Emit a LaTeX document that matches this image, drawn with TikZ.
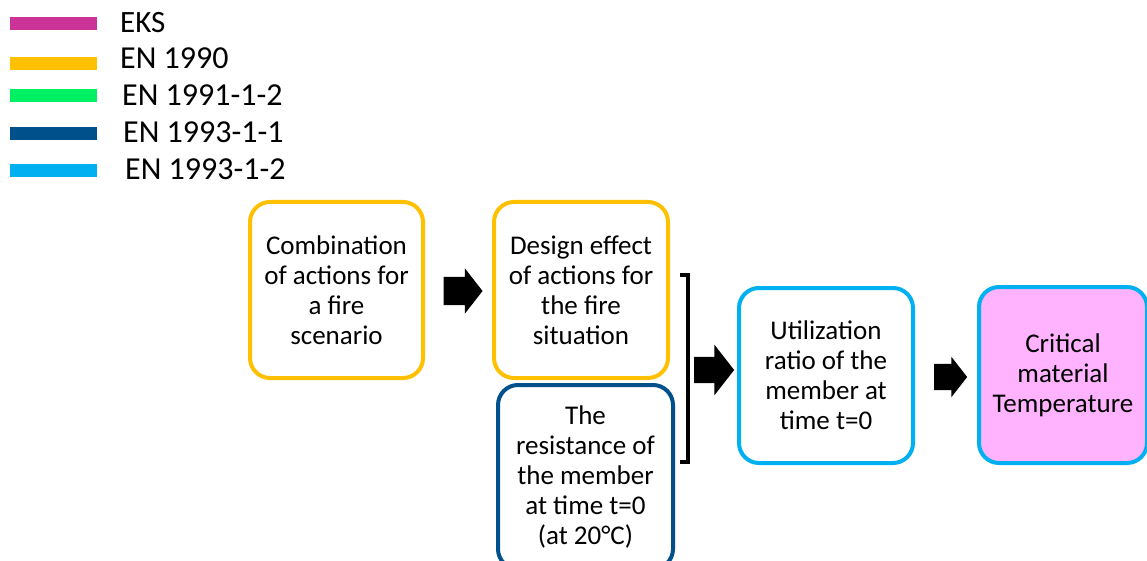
\documentclass[tikz,border=0pt]{standalone}
\usepackage{fontspec}
\setmainfont{Carlito}
\usetikzlibrary{shapes.arrows}
\definecolor{eks}{HTML}{CC3399}
\definecolor{en1990}{HTML}{FFC000}
\definecolor{en1991}{HTML}{00F064}
\definecolor{en19931}{HTML}{00508C}
\definecolor{en19932}{HTML}{00B0F0}
\definecolor{critfill}{HTML}{FFB3FF}
\begin{document}
\begin{tikzpicture}[x=1pt,y=-1pt,
  legbar/.style={rectangle,inner sep=0,minimum width=87pt,minimum height=13pt,fill=#1},
  legtext/.style={anchor=base west,inner sep=0,font=\fontsize{32}{36}\selectfont},
  stepbox/.style={rectangle,rounded corners=20pt,line width=4pt,draw=#1,
    align=center,inner sep=0,font=\fontsize{27}{30}\selectfont},
  blockarrow/.style={single arrow,fill=black,inner xsep=0,inner ysep=#1,
    single arrow tip angle=104,shape border rotate=0}
]
\useasboundingbox (0,0) rectangle (1147,561);

% legend
\node[legbar=eks]     (b1) at (53.5,24)  {};
\node[legbar=en1990]  (b2) at (53.5,64)  {};
\node[legbar=en1991]  (b3) at (53.5,96)  {};
\node[legbar=en19931] (b4) at (53.5,134) {};
\node[legbar=en19932] (b5) at (53.5,171) {};
\node[legtext,font=\fontsize{31}{36}\selectfont] (t1) at (120,33) {EKS};
\node[legtext] (t2) at (120,69)  {EN 1990};
\node[legtext] (t3) at (122,106) {EN 1991-1-2};
\node[legtext] (t4) at (123,143) {EN 1993-1-1};
\node[legtext] (t5) at (125,180) {EN 1993-1-2};

% flow boxes
\node[stepbox=en1990,minimum width=173pt,minimum height=176pt] (comb) at (336.5,290)
  {Combination\\of actions for\\a fire\\scenario};
\node[stepbox=en1990,minimum width=174pt,minimum height=176pt] (design) at (581,290)
  {Design effect\\of actions for\\the fire\\situation};
\node[stepbox=en19931,minimum width=175pt,minimum height=184pt] (resist) at (585.5,477)
  {The\\resistance of\\the member\\at time t=0\\(at 20°C)};
\node[stepbox=en19932,minimum width=174pt,minimum height=175pt] (util) at (826,375.5)
  {Utilization\\ratio of the\\member at\\time t=0};
\node[stepbox=en19932,fill=critfill,minimum width=168pt,minimum height=176pt] (crit) at (1063,375)
  {Critical\\material\\Temperature};

% bracket joining the two inputs
\coordinate (brtop) at (688,275);
\coordinate (brbot) at (688,462);
\draw[line width=3.5pt,miter limit=10] ([xshift=-8pt]brtop) -- (brtop) -- (brbot) -- ([xshift=-8pt]brbot);

% block arrows
\node[blockarrow=14pt,minimum height=39pt,single arrow head extend=8.5pt] (a1) at (457.5,291) {};
\node[blockarrow=13pt,minimum height=40pt,single arrow head extend=12pt] (a2) at (709,370) {};
\node[blockarrow=13pt,minimum height=33pt,single arrow head extend=7pt] (a3) at (945.5,377) {};
\end{tikzpicture}
\end{document}
